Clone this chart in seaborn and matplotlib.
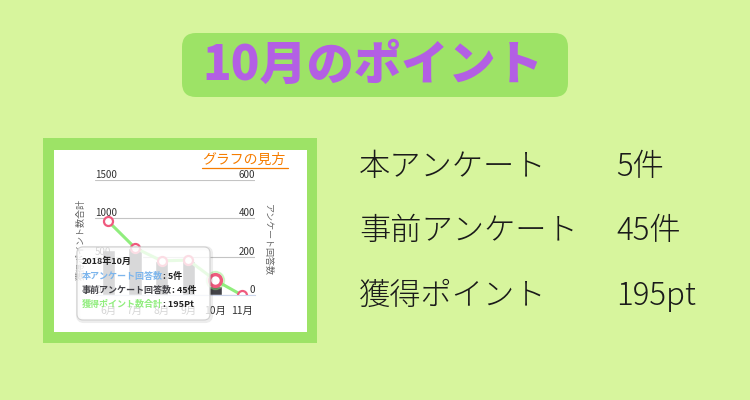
import numpy as np
import seaborn as sns
import matplotlib.pyplot as plt
from matplotlib.patches import FancyBboxPatch, Rectangle
from matplotlib.lines import Line2D

# データ
months = ['6月', '7月', '8月', '9月', '10月', '11月']
points_total = [960, 615, 445, 455, 195, 0]      # 獲得ポイント数合計 (左軸)
pre_answers = [235, 245, 175, 175, 45, 0]        # 事前アンケート回答数 (右軸)
left_ticks = [0, 500, 1000, 1500]
right_ticks = [0, 200, 400, 600]
hover_month = '10月'

summary_labels = ['本アンケート', '事前アンケート', '獲得ポイント']
summary_values = ['5件', '45件', '195pt']

tooltip_title = '2018年10月'
tooltip_names = ['本アンケート回答数', '事前アンケート回答数', '獲得ポイント数合計']
tooltip_values = [': 5件', ': 45件', ': 195Pt']

BG = '#d7f59d'
GREEN = '#9de366'
PURPLE = '#b35fe4'
PINK = '#ef5a7e'
LINE_GREEN = '#90ed7d'
BAR_GRAY = '#434348'
BLUE = '#7cb5ec'

sns.set_style('white')
plt.rcParams['font.family'] = ['Noto Sans CJK JP', 'DejaVu Sans']

W, H = 750, 400
fig = plt.figure(figsize=(W / 100, H / 100), dpi=100)
fig.patch.set_facecolor(BG)

# 背景レイヤー (ピクセル座標)
bg = fig.add_axes([0, 0, 1, 1], zorder=0)
bg.set_xlim(0, W)
bg.set_ylim(H, 0)
bg.axis('off')

bg.add_patch(FancyBboxPatch((182, 33), 386, 64, boxstyle='round,pad=0,rounding_size=14',
                            fc=GREEN, ec='none'))
bg.text(373, 66, '10月のポイント', fontsize=34, weight='black', color=PURPLE,
        ha='center', va='center')

bg.add_patch(Rectangle((43, 138), 274, 205, fc=GREEN, ec='none'))
bg.add_patch(Rectangle((54, 150), 253, 182, fc='white', ec='none'))

bg.text(202, 160, 'グラフの見方', fontsize=10, color='#f57c00', ha='left', va='center')
bg.add_line(Line2D([202, 288], [168, 168], color='#f57c00', lw=0.9))

for i, (lab, val) in enumerate(zip(summary_labels, summary_values)):
    y = 167 + i * 64.5
    bg.text(359, y, lab, fontsize=22.5, weight='light', color='#1a1a1a', ha='left', va='center')
    bg.text(616, y, val, fontsize=22.5, weight='light', color='#1a1a1a', ha='left', va='center')

# グラフ本体
ax = fig.add_axes([95 / W, 1 - 295 / H, 160 / W, 115 / H])
ax2 = ax.twinx()
ax2.set_zorder(1)
ax.set_zorder(2)
ax.patch.set_visible(False)
ax2.patch.set_visible(False)

sns.barplot(x=months, y=pre_answers, ax=ax2, color=BAR_GRAY, width=0.5, saturation=1)
x_idx = np.arange(len(months))
sns.lineplot(x=x_idx, y=points_total, ax=ax, color=LINE_GREEN, lw=2.2,
             marker='o', markersize=6.5, markerfacecolor='white',
             markeredgecolor=PINK, markeredgewidth=1.6)

# ホバー中のポイント
h = months.index(hover_month)
ax.plot(h, points_total[h], 'o', markersize=13, color=LINE_GREEN, alpha=0.35, zorder=4)
ax.plot(h, points_total[h], 'o', markersize=8.5, markerfacecolor='white',
        markeredgecolor=PINK, markeredgewidth=2.4, zorder=5)

ax.set_xlim(-0.5, len(months) - 0.5)
ax.set_ylim(0, 1500)
ax2.set_ylim(0, 600)
ax.set_xticks(x_idx)
ax.set_xticklabels(months)
ax.set_xticks(list(x_idx - 0.5) + [len(months) - 0.5], minor=True)
ax.tick_params(axis='x', which='major', length=0, pad=8, labelsize=7.5, labelcolor='#333333')
ax.tick_params(axis='x', which='minor', length=5, width=0.8, color='#ccd6eb', direction='out')

ax.set_yticks(left_ticks)
ax2.set_yticks(right_ticks)
ax.tick_params(axis='y', length=0, pad=0, labelsize=7, labelcolor='#333333')
ax2.tick_params(axis='y', length=0, pad=0, labelsize=7, labelcolor='#333333')
plt.setp(ax.get_yticklabels(), ha='left', va='bottom')
plt.setp(ax2.get_yticklabels(), ha='right', va='bottom')

ax2.grid(axis='y', color='#c4c4c4', lw=0.8)
ax2.set_axisbelow(True)
ax.grid(False)

for a in (ax, ax2):
    for s in ('top', 'left', 'right'):
        a.spines[s].set_visible(False)
ax2.spines['bottom'].set_visible(False)
ax.spines['bottom'].set_color('#ccd6eb')
ax.spines['bottom'].set_linewidth(0.8)

ax.set_ylabel('獲得ポイント数合計', fontsize=6.5, color='#666666', va='bottom')
ax.yaxis.set_label_coords(-0.055, 0.48)
ax2.set_ylabel('アンケート回答数', fontsize=6.5, color='#666666', rotation=-90, va='bottom')
ax2.yaxis.set_label_coords(1.05, 0.48)

# ツールチップ
ov = fig.add_axes([0, 0, 1, 1], zorder=10)
ov.set_xlim(0, W)
ov.set_ylim(H, 0)
ov.axis('off')
ov.add_patch(FancyBboxPatch((78, 248), 133, 73, boxstyle='round,pad=0,rounding_size=6',
                            fc='none', ec=(0, 0, 0, 0.07), lw=3))
ov.add_patch(FancyBboxPatch((77, 247), 133, 73, boxstyle='round,pad=0,rounding_size=6',
                            fc=(1, 1, 1, 0.8), ec='#d0d0d0', lw=0.8))
ov.text(82, 261, tooltip_title, fontsize=6.5, weight='bold', color='#222222',
        ha='left', va='center')
name_colors = [BLUE, BAR_GRAY, LINE_GREEN]
for i, (nm, val, c) in enumerate(zip(tooltip_names, tooltip_values, name_colors)):
    t = ov.text(82, 276 + i * 14.3, nm, fontsize=6.5, weight='bold', color=c,
                ha='left', va='center')
    ov.annotate(val, xy=(1, 0.5), xycoords=t, fontsize=6.5, weight='bold',
                color='#222222', ha='left', va='center')

plt.savefig('out.png', dpi=100, facecolor=BG)
